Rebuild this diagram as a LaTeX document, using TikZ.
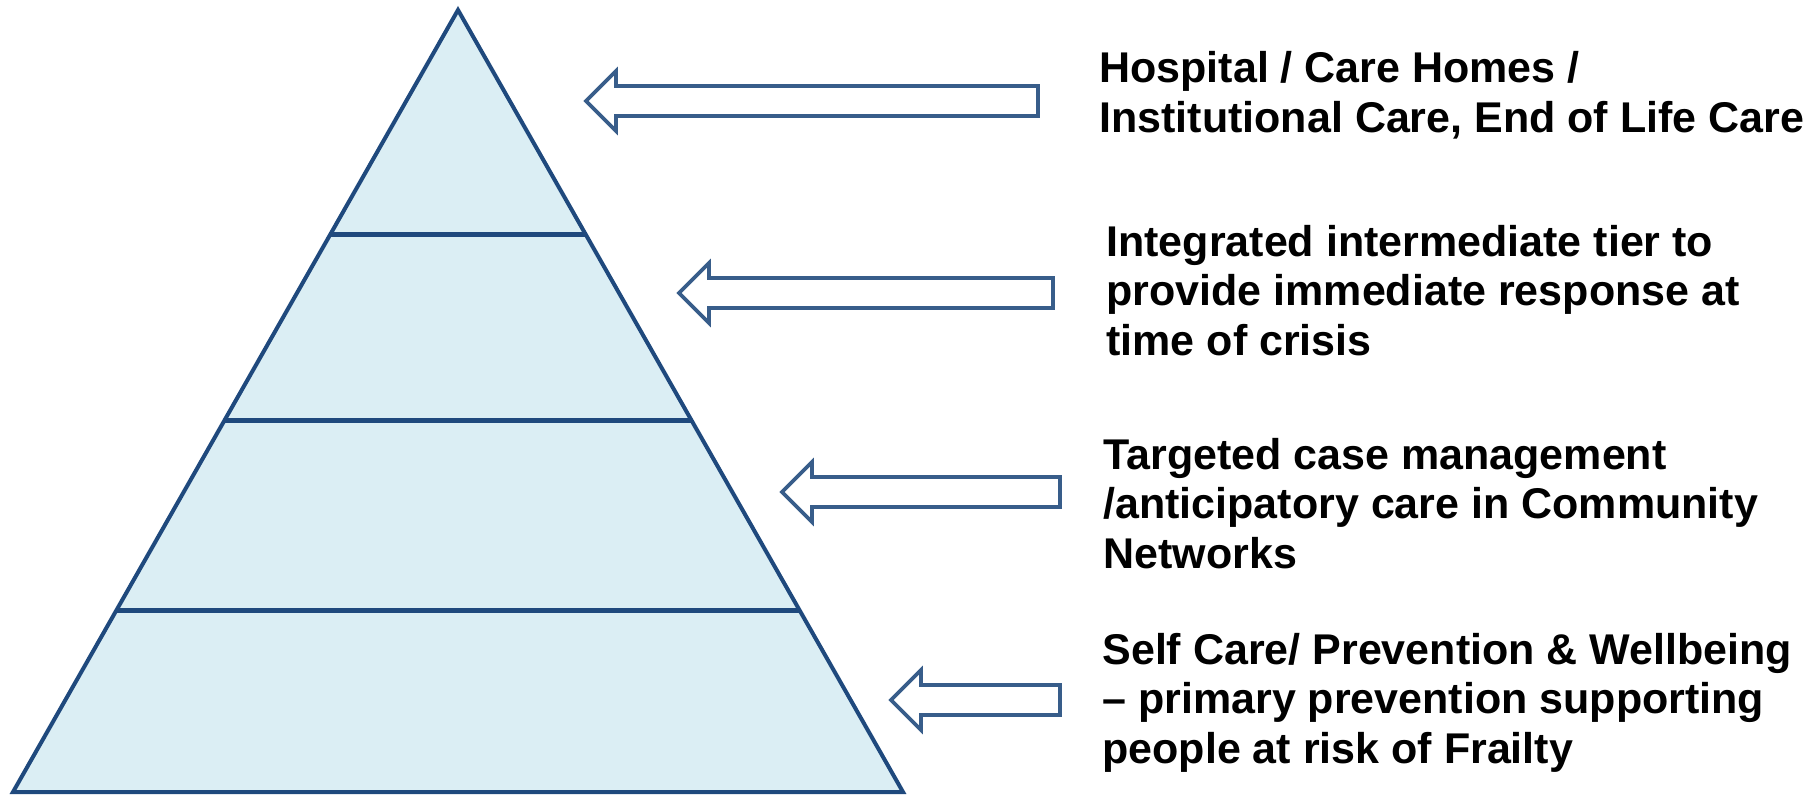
\documentclass[tikz,border=0pt]{standalone}
\usepackage{fontspec}
\setmainfont{Liberation Sans}
\usetikzlibrary{calc}
\definecolor{pyrline}{RGB}{31,73,125}
\definecolor{pyrfill}{RGB}{219,238,244}
\definecolor{arrline}{RGB}{56,93,138}
\begin{document}
\begin{tikzpicture}[x=0.5pt,y=-0.5pt,line join=miter,
    tier/.style={pyrline,line width=2.5pt},
    hollow/.style={arrline,line width=1.8pt,fill=white},
    caption/.style={anchor=base west,inner sep=0pt,align=left,font=\bfseries\fontsize{21.5}{24.75}\selectfont}]
    \useasboundingbox (0,0) rectangle (1816,794);
    %pyramid
    \coordinate (apex) at (458,10);
    \coordinate (bl) at (13,792);
    \coordinate (br) at (903,792);
    \draw[pyrline,fill=pyrfill,line width=2pt] (apex)--(bl)--(br)--cycle;
    \foreach \t in {0.2877,0.5243,0.7673}
        \draw[tier] ($(apex)!\t!(bl)$)--($(apex)!\t!(br)$);
    %arrows
    \foreach \tip/\yc/\tail in {586/101/1038,679/293/1053,782/492/1060,891/700/1060}
        \draw[hollow] (\tip,\yc)--++(30,-30)--++(0,15)--(\tail,\yc-15)--++(0,30)--(\tip+30,\yc+15)--++(0,15)--cycle;
    %labels (base = last line)
    \node[caption] (hospital) at (1099,132) {Hospital / Care Homes /\\Institutional Care, End of Life Care};
    \node[caption] (intermediate) at (1106,355) {Integrated intermediate tier to\\provide immediate response at\\time of crisis};
    \node[caption] (targeted) at (1103,568) {Targeted case management\\/anticipatory care in Community\\Networks};
    \node[caption] (selfcare) at (1102,763) {Self Care/ Prevention \& Wellbeing\\\textendash{} primary prevention supporting\\people at risk of Frailty};
\end{tikzpicture}
\end{document}
